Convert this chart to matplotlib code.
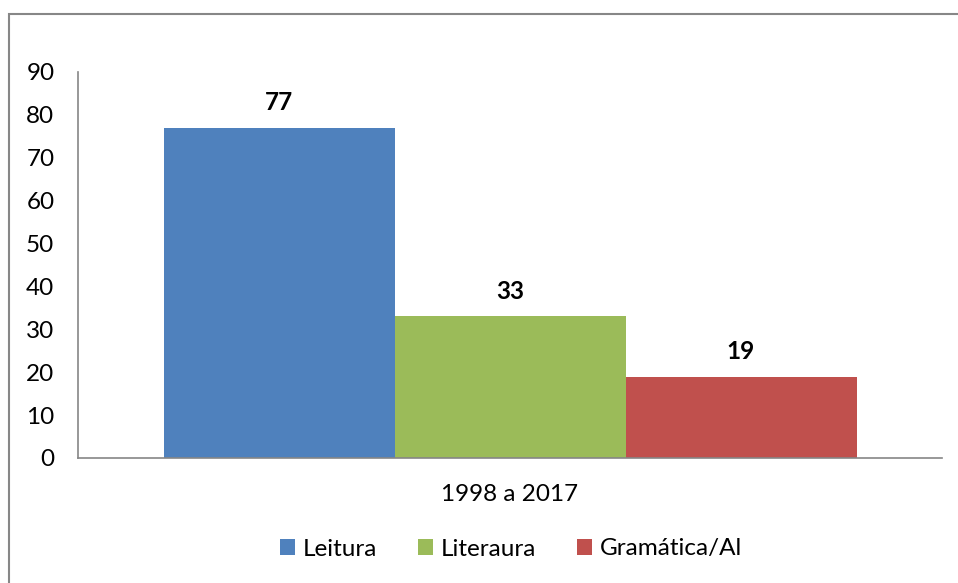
import matplotlib.pyplot as plt
from matplotlib.patches import Rectangle

plt.rcParams['font.family'] = ['Lato', 'DejaVu Sans']

categories = ['Leitura', 'Literaura', 'Gramática/Al']
values = [77, 33, 19]
colors = ['#4F81BD', '#9BBB59', '#C0504D']
group_label = '1998 a 2017'

fig = plt.figure(figsize=(9.58, 5.83), dpi=100)
ax = fig.add_axes([78 / 958, 1 - 458 / 583, 864 / 958, 386 / 583])

# outer chart border (right and bottom edges fall outside the image)
fig.patches.append(Rectangle((9 / 958, -0.1), 1.2, 1 - 14 / 583 + 0.1,
                             transform=fig.transFigure, fill=False,
                             edgecolor='#878787', linewidth=1.5))

width = 231 / 864
offsets = [(i - 1) * width for i in range(len(values))]
for off, v, c, name in zip(offsets, values, colors, categories):
    ax.bar(off, v, width, color=c, label=name)
    ax.text(off, v + 5.8, str(v), ha='center', va='center',
            fontsize=17.5, fontweight='bold')

ax.set_xlim(-0.5, 0.5)
ax.set_ylim(0, 90)
ax.set_yticks(range(0, 91, 10))
ax.set_xticks([0])
ax.set_xticklabels([group_label])
ax.tick_params(axis='both', length=0, labelsize=17.5)
ax.tick_params(axis='y', pad=17)
ax.tick_params(axis='x', pad=19)

for s in ['top', 'right']:
    ax.spines[s].set_visible(False)
for s in ['left', 'bottom']:
    ax.spines[s].set_color('#868686')
    ax.spines[s].set_linewidth(1.2)

fig.legend(loc='center', bbox_to_anchor=(511 / 958, 1 - 549 / 583), ncol=3,
           frameon=False, fontsize=17.5, handlelength=0.62, handleheight=0.62,
           handletextpad=0.3, columnspacing=1.7)

fig.savefig('out.png', dpi=100)
